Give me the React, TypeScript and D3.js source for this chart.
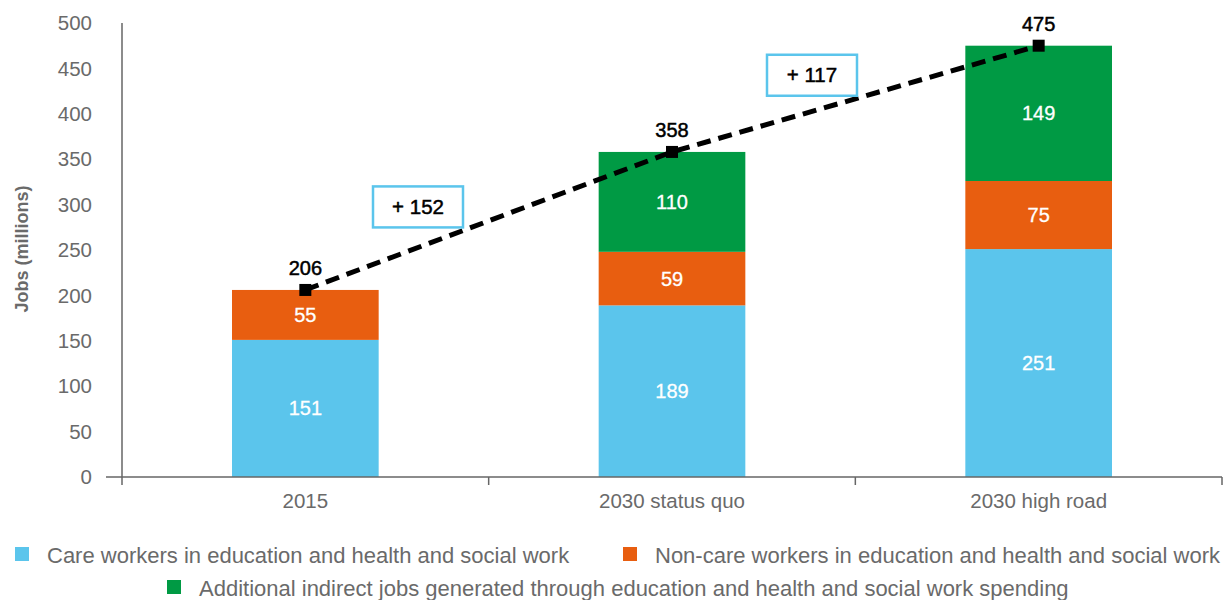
import React from "react";
import * as d3 from "d3";

const categories = ["2015", "2030 status quo", "2030 high road"];
const careWorkers = [151, 189, 251];
const nonCareWorkers = [55, 59, 75];
const indirectJobs = [0, 110, 149];
const totals = [206, 358, 475];
const increments = ["+ 152", "+ 117"];
const incrementPos = [298, 443];
const yTicks = [0, 50, 100, 150, 200, 250, 300, 350, 400, 450, 500];
const seriesNames = [
  "Care workers in education and health and social work",
  "Non-care workers in education and health and social work",
  "Additional indirect jobs generated through education and health and social work spending",
];
const colors = ["#5BC5EC", "#E85E10", "#009A44"];

const W = 1226;
const H = 600;
const FONT = "'Liberation Sans', Arial, Helvetica, sans-serif";
const GRAY = "#6a6a6a";

export default function App() {
  const x = d3.scaleBand<string>().domain(categories).range([122, 1222]).paddingInner(0.6).paddingOuter(0.3);
  const y = d3.scaleLinear().domain([0, 500]).range([477, 23]);
  const series = [careWorkers, nonCareWorkers, indirectJobs];
  const stackData = categories.map((c, i) => ({ cat: c, s0: careWorkers[i], s1: nonCareWorkers[i], s2: indirectJobs[i] }));
  const stack = d3.stack<any>().keys(["s0", "s1", "s2"])(stackData);
  const cx = (c: string) => (x(c) as number) + x.bandwidth() / 2;
  const line = d3.line<number>().x((_, i) => cx(categories[i])).y((d) => y(d));
  const step = x.step();
  const boundaries = [122 + step, 122 + step * 2, 1222];

  return (
    <svg width={W} height={H} style={{ position: "absolute", left: 0, top: 0 }} fontFamily={FONT}>
      <rect width={W} height={H} fill="#fff" />
      {/* y axis */}
      <line x1={122} x2={122} y1={y(500)} y2={485} stroke="#666" strokeWidth={1.5} />
      {yTicks.map((t) => (
        <text key={t} x={92} y={y(t)} dy="0.35em" textAnchor="end" fontSize={20.5} fill={GRAY}>
          {t}
        </text>
      ))}
      <text transform="translate(28,249) rotate(-90)" textAnchor="middle" fontSize={18} fontWeight={700} fill={GRAY}>
        Jobs (millions)
      </text>
      {/* bars */}
      {stack.map((layer, li) =>
        layer.map((d, i) =>
          d[1] - d[0] > 0 ? (
            <rect
              key={li + "-" + i}
              x={x(categories[i])}
              width={x.bandwidth()}
              y={y(d[1])}
              height={y(d[0]) - y(d[1])}
              fill={colors[li]}
            />
          ) : null
        )
      )}
      {stack.map((layer, li) =>
        layer.map((d, i) =>
          series[li][i] > 0 ? (
            <text
              key={"l" + li + "-" + i}
              x={cx(categories[i])}
              y={y((d[0] + d[1]) / 2)}
              dy="0.35em"
              textAnchor="middle"
              fontSize={20}
              fill="#fff"
              stroke="#fff"
              strokeWidth={0.3}
            >
              {series[li][i]}
            </text>
          ) : null
        )
      )}
      {/* x axis */}
      <line x1={106} x2={1222} y1={477} y2={477} stroke="#666" strokeWidth={1.5} />
      {boundaries.map((b, i) => (
        <line key={i} x1={b} x2={b} y1={477} y2={485} stroke="#666" strokeWidth={1.5} />
      ))}
      {categories.map((c) => (
        <text key={c} x={cx(c)} y={508} textAnchor="middle" fontSize={20.5} fill={GRAY}>
          {c}
        </text>
      ))}
      {/* total line */}
      <path d={line(totals) || ""} fill="none" stroke="#000" strokeWidth={5} strokeDasharray="14 8" />
      {totals.map((t, i) => (
        <g key={"t" + i}>
          <rect x={cx(categories[i]) - 6} y={y(t) - 6} width={12} height={12} fill="#000" />
          <text x={cx(categories[i])} y={y(t) - 15} textAnchor="middle" fontSize={20} fill="#000" stroke="#000" strokeWidth={0.5}>
            {t}
          </text>
        </g>
      ))}
      {/* increment boxes */}
      {increments.map((s, i) => {
        const bx = i === 0 ? 418 : 812;
        const by = y(incrementPos[i]);
        return (
          <g key={"inc" + i}>
            <rect x={bx - 45} y={by - 20} width={90} height={41} fill="#fff" stroke="#5BC5EC" strokeWidth={2.5} />
            <text x={bx} y={by} dy="0.35em" textAnchor="middle" fontSize={20.5} fill="#000" stroke="#000" strokeWidth={0.5}>
              {s}
            </text>
          </g>
        );
      })}
      {/* legend */}
      <rect x={15} y={547} width={14} height={14} fill={colors[0]} />
      <text x={47} y={563} fontSize={22} fill={GRAY}>{seriesNames[0]}</text>
      <rect x={623} y={547} width={14} height={14} fill={colors[1]} />
      <text x={655} y={563} fontSize={22} fill={GRAY}>{seriesNames[1]}</text>
      <rect x={167} y={580} width={14} height={14} fill={colors[2]} />
      <text x={199} y={596} fontSize={22} fill={GRAY}>{seriesNames[2]}</text>
    </svg>
  );
}
